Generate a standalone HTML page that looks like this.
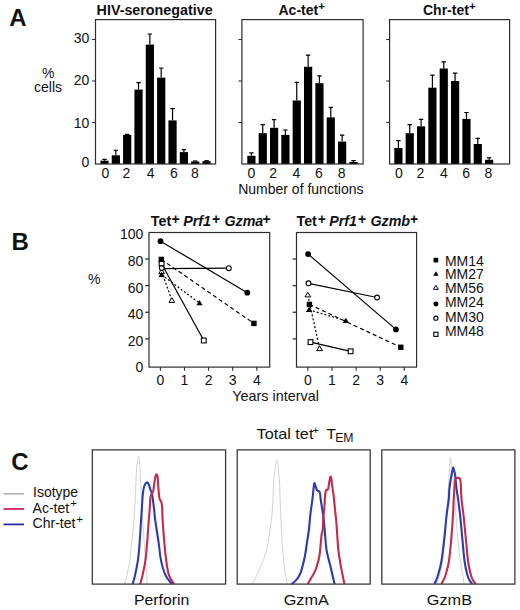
<!DOCTYPE html>
<html><head><meta charset="utf-8"><style>
html,body{margin:0;padding:0;background:#fff;}
svg{display:block;}
text{font-family:"Liberation Sans", sans-serif;}
</style></head><body>
<svg width="520" height="610" viewBox="0 0 520 610" font-family='"Liberation Sans", sans-serif'>
<rect width="520" height="610" fill="#fff"/>
<text x="9.3" y="26.3" font-size="24" font-weight="bold" fill="#111">A</text>
<text x="48.2" y="78.3" font-size="14" text-anchor="middle" fill="#111">%</text>
<text x="48" y="91.7" font-size="14" text-anchor="middle" fill="#111">cells</text>
<rect x="100.4" y="160.7" width="8.2" height="3.3" fill="#000"/>
<path d="M104.5,160.7 V159.3 M102.3,159.3 H106.7" stroke="#000" stroke-width="1.2" fill="none"/>
<rect x="111.74" y="155.3" width="8.2" height="8.7" fill="#000"/>
<path d="M115.84,155.3 V150.4 M113.64,150.4 H118.04" stroke="#000" stroke-width="1.2" fill="none"/>
<rect x="123.08" y="134.9" width="8.2" height="29.1" fill="#000"/>
<path d="M124.98,134.4 H129.38" stroke="#000" stroke-width="1.2" fill="none"/>
<rect x="134.42" y="89.6" width="8.2" height="74.4" fill="#000"/>
<path d="M138.52,89.6 V82.7 M136.32,82.7 H140.72" stroke="#000" stroke-width="1.2" fill="none"/>
<rect x="145.76" y="44.6" width="8.2" height="119.4" fill="#000"/>
<path d="M149.86,44.6 V34 M147.66,34 H152.06" stroke="#000" stroke-width="1.2" fill="none"/>
<rect x="157.1" y="77.6" width="8.2" height="86.4" fill="#000"/>
<path d="M161.2,77.6 V68 M159,68 H163.4" stroke="#000" stroke-width="1.2" fill="none"/>
<rect x="168.44" y="120.4" width="8.2" height="43.6" fill="#000"/>
<path d="M172.54,120.4 V108.6 M170.34,108.6 H174.74" stroke="#000" stroke-width="1.2" fill="none"/>
<rect x="179.78" y="152.1" width="8.2" height="11.9" fill="#000"/>
<path d="M183.88,152.1 V149.7 M181.68,149.7 H186.08" stroke="#000" stroke-width="1.2" fill="none"/>
<rect x="191.12" y="161.5" width="8.2" height="2.5" fill="#000"/>
<path d="M193.02,161 H197.42" stroke="#000" stroke-width="1.2" fill="none"/>
<rect x="202.46" y="161.2" width="8.2" height="2.8" fill="#000"/>
<path d="M204.36,160.7 H208.76" stroke="#000" stroke-width="1.2" fill="none"/>
<rect x="95.5" y="19.6" width="120.1" height="144.4" fill="none" stroke="#2e2e2e" stroke-width="1.2"/>
<path d="M92.1,39.5 H95.5" stroke="#2e2e2e" stroke-width="1.1"/>
<path d="M92.1,81 H95.5" stroke="#2e2e2e" stroke-width="1.1"/>
<path d="M92.1,122.5 H95.5" stroke="#2e2e2e" stroke-width="1.1"/>
<text x="105.5" y="178" font-size="14" text-anchor="middle" fill="#111">0</text>
<text x="126.5" y="178" font-size="14" text-anchor="middle" fill="#111">2</text>
<text x="150.6" y="178" font-size="14" text-anchor="middle" fill="#111">4</text>
<text x="173.8" y="178" font-size="14" text-anchor="middle" fill="#111">6</text>
<text x="195" y="178" font-size="14" text-anchor="middle" fill="#111">8</text>
<text x="96.6" y="14.6" font-size="14.3" font-weight="bold" fill="#111">HIV-seronegative</text>
<rect x="247.3" y="155.8" width="8.2" height="8.2" fill="#000"/>
<path d="M251.4,155.8 V152.9 M249.2,152.9 H253.6" stroke="#000" stroke-width="1.2" fill="none"/>
<rect x="258.64" y="133.2" width="8.2" height="30.8" fill="#000"/>
<path d="M262.74,133.2 V124.6 M260.54,124.6 H264.94" stroke="#000" stroke-width="1.2" fill="none"/>
<rect x="269.98" y="127.8" width="8.2" height="36.2" fill="#000"/>
<path d="M274.08,127.8 V119.7 M271.88,119.7 H276.28" stroke="#000" stroke-width="1.2" fill="none"/>
<rect x="281.32" y="134.9" width="8.2" height="29.1" fill="#000"/>
<path d="M285.42,134.9 V130 M283.22,130 H287.62" stroke="#000" stroke-width="1.2" fill="none"/>
<rect x="292.66" y="100.5" width="8.2" height="63.5" fill="#000"/>
<path d="M296.76,100.5 V82.3 M294.56,82.3 H298.96" stroke="#000" stroke-width="1.2" fill="none"/>
<rect x="304" y="66.8" width="8.2" height="97.2" fill="#000"/>
<path d="M308.1,66.8 V55.2 M305.9,55.2 H310.3" stroke="#000" stroke-width="1.2" fill="none"/>
<rect x="315.34" y="83.2" width="8.2" height="80.8" fill="#000"/>
<path d="M319.44,83.2 V75.9 M317.24,75.9 H321.64" stroke="#000" stroke-width="1.2" fill="none"/>
<rect x="326.68" y="117.4" width="8.2" height="46.6" fill="#000"/>
<path d="M330.78,117.4 V107.4 M328.58,107.4 H332.98" stroke="#000" stroke-width="1.2" fill="none"/>
<rect x="338.02" y="141.6" width="8.2" height="22.4" fill="#000"/>
<path d="M342.12,141.6 V135.2 M339.92,135.2 H344.32" stroke="#000" stroke-width="1.2" fill="none"/>
<rect x="349.36" y="162" width="8.2" height="2" fill="#000"/>
<path d="M353.46,162 V160.7 M351.26,160.7 H355.66" stroke="#000" stroke-width="1.2" fill="none"/>
<rect x="241.9" y="19.6" width="121.2" height="144.4" fill="none" stroke="#2e2e2e" stroke-width="1.2"/>
<path d="M238.5,39.5 H241.9" stroke="#2e2e2e" stroke-width="1.1"/>
<path d="M238.5,81 H241.9" stroke="#2e2e2e" stroke-width="1.1"/>
<path d="M238.5,122.5 H241.9" stroke="#2e2e2e" stroke-width="1.1"/>
<text x="251.5" y="178" font-size="14" text-anchor="middle" fill="#111">0</text>
<text x="273.1" y="178" font-size="14" text-anchor="middle" fill="#111">2</text>
<text x="296.5" y="178" font-size="14" text-anchor="middle" fill="#111">4</text>
<text x="318.9" y="178" font-size="14" text-anchor="middle" fill="#111">6</text>
<text x="341.7" y="178" font-size="14" text-anchor="middle" fill="#111">8</text>
<text x="278.5" y="14.6" font-size="14" font-weight="bold" fill="#111">Ac-tet<tspan font-size="11.5" dy="-4.4">+</tspan></text>
<rect x="394.3" y="148" width="8.2" height="16" fill="#000"/>
<path d="M398.4,148 V140.6 M396.2,140.6 H400.6" stroke="#000" stroke-width="1.2" fill="none"/>
<rect x="405.64" y="133.2" width="8.2" height="30.8" fill="#000"/>
<path d="M409.74,133.2 V124.6 M407.54,124.6 H411.94" stroke="#000" stroke-width="1.2" fill="none"/>
<rect x="416.98" y="126.3" width="8.2" height="37.7" fill="#000"/>
<path d="M421.08,126.3 V119.4 M418.88,119.4 H423.28" stroke="#000" stroke-width="1.2" fill="none"/>
<rect x="428.32" y="87.7" width="8.2" height="76.3" fill="#000"/>
<path d="M432.42,87.7 V75.1 M430.22,75.1 H434.62" stroke="#000" stroke-width="1.2" fill="none"/>
<rect x="439.66" y="68.5" width="8.2" height="95.5" fill="#000"/>
<path d="M443.76,68.5 V61.8 M441.56,61.8 H445.96" stroke="#000" stroke-width="1.2" fill="none"/>
<rect x="451" y="81" width="8.2" height="83" fill="#000"/>
<path d="M455.1,81 V73.1 M452.9,73.1 H457.3" stroke="#000" stroke-width="1.2" fill="none"/>
<rect x="462.34" y="118.9" width="8.2" height="45.1" fill="#000"/>
<path d="M466.44,118.9 V112.5 M464.24,112.5 H468.64" stroke="#000" stroke-width="1.2" fill="none"/>
<rect x="473.68" y="144" width="8.2" height="20" fill="#000"/>
<path d="M477.78,144 V138.4 M475.58,138.4 H479.98" stroke="#000" stroke-width="1.2" fill="none"/>
<rect x="485.02" y="159.8" width="8.2" height="4.2" fill="#000"/>
<path d="M489.12,159.8 V157.8 M486.92,157.8 H491.32" stroke="#000" stroke-width="1.2" fill="none"/>
<rect x="389.6" y="19.6" width="120" height="144.4" fill="none" stroke="#2e2e2e" stroke-width="1.2"/>
<path d="M386.2,39.5 H389.6" stroke="#2e2e2e" stroke-width="1.1"/>
<path d="M386.2,81 H389.6" stroke="#2e2e2e" stroke-width="1.1"/>
<path d="M386.2,122.5 H389.6" stroke="#2e2e2e" stroke-width="1.1"/>
<text x="398.8" y="178" font-size="14" text-anchor="middle" fill="#111">0</text>
<text x="420.3" y="178" font-size="14" text-anchor="middle" fill="#111">2</text>
<text x="443.8" y="178" font-size="14" text-anchor="middle" fill="#111">4</text>
<text x="466.2" y="178" font-size="14" text-anchor="middle" fill="#111">6</text>
<text x="488.4" y="178" font-size="14" text-anchor="middle" fill="#111">8</text>
<text x="423" y="14.6" font-size="14" font-weight="bold" fill="#111">Chr-tet<tspan font-size="11.5" dy="-4.4">+</tspan></text>
<text x="89.3" y="42.8" font-size="14" text-anchor="end" fill="#111">30</text>
<text x="89.3" y="84.9" font-size="14" text-anchor="end" fill="#111">20</text>
<text x="89.3" y="128.2" font-size="14" text-anchor="end" fill="#111">10</text>
<text x="89.3" y="167.3" font-size="14" text-anchor="end" fill="#111">0</text>
<text x="238.2" y="193.7" font-size="14" fill="#111">Number of functions</text>
<text x="11.5" y="250" font-size="24" font-weight="bold" fill="#111">B</text>
<text x="94.3" y="284" font-size="14" text-anchor="middle" fill="#111">%</text>
<rect x="149" y="232.5" width="120.7" height="134.6" fill="none" stroke="#2e2e2e" stroke-width="1.2"/>
<path d="M145.2,338.88 H149" stroke="#2e2e2e" stroke-width="1.3"/>
<path d="M145.2,312.26 H149" stroke="#2e2e2e" stroke-width="1.3"/>
<path d="M145.2,285.64 H149" stroke="#2e2e2e" stroke-width="1.3"/>
<path d="M145.2,259.02 H149" stroke="#2e2e2e" stroke-width="1.3"/>
<path d="M160.4,367.1 V370.7" stroke="#2e2e2e" stroke-width="1.1"/>
<text x="160.4" y="385.3" font-size="14" text-anchor="middle" fill="#111">0</text>
<path d="M184.5,367.1 V370.7" stroke="#2e2e2e" stroke-width="1.1"/>
<text x="184.5" y="385.3" font-size="14" text-anchor="middle" fill="#111">1</text>
<path d="M208.6,367.1 V370.7" stroke="#2e2e2e" stroke-width="1.1"/>
<text x="208.6" y="385.3" font-size="14" text-anchor="middle" fill="#111">2</text>
<path d="M232.7,367.1 V370.7" stroke="#2e2e2e" stroke-width="1.1"/>
<text x="232.7" y="385.3" font-size="14" text-anchor="middle" fill="#111">3</text>
<path d="M256.8,367.1 V370.7" stroke="#2e2e2e" stroke-width="1.1"/>
<text x="256.8" y="385.3" font-size="14" text-anchor="middle" fill="#111">4</text>
<rect x="296.5" y="232.5" width="120.1" height="134.6" fill="none" stroke="#2e2e2e" stroke-width="1.2"/>
<path d="M292.7,338.88 H296.5" stroke="#2e2e2e" stroke-width="1.3"/>
<path d="M292.7,312.26 H296.5" stroke="#2e2e2e" stroke-width="1.3"/>
<path d="M292.7,285.64 H296.5" stroke="#2e2e2e" stroke-width="1.3"/>
<path d="M292.7,259.02 H296.5" stroke="#2e2e2e" stroke-width="1.3"/>
<path d="M307.9,367.1 V370.7" stroke="#2e2e2e" stroke-width="1.1"/>
<text x="307.9" y="385.3" font-size="14" text-anchor="middle" fill="#111">0</text>
<path d="M332,367.1 V370.7" stroke="#2e2e2e" stroke-width="1.1"/>
<text x="332" y="385.3" font-size="14" text-anchor="middle" fill="#111">1</text>
<path d="M356.1,367.1 V370.7" stroke="#2e2e2e" stroke-width="1.1"/>
<text x="356.1" y="385.3" font-size="14" text-anchor="middle" fill="#111">2</text>
<path d="M380.2,367.1 V370.7" stroke="#2e2e2e" stroke-width="1.1"/>
<text x="380.2" y="385.3" font-size="14" text-anchor="middle" fill="#111">3</text>
<path d="M404.3,367.1 V370.7" stroke="#2e2e2e" stroke-width="1.1"/>
<text x="404.3" y="385.3" font-size="14" text-anchor="middle" fill="#111">4</text>
<text x="143.4" y="239.2" font-size="14" text-anchor="end" fill="#111">100</text>
<text x="143.4" y="265.92" font-size="14" text-anchor="end" fill="#111">80</text>
<text x="143.4" y="292.54" font-size="14" text-anchor="end" fill="#111">60</text>
<text x="143.4" y="319.16" font-size="14" text-anchor="end" fill="#111">40</text>
<text x="143.4" y="345.78" font-size="14" text-anchor="end" fill="#111">20</text>
<text x="143.4" y="372.4" font-size="14" text-anchor="end" fill="#111">0</text>
<text x="232.2" y="401.4" font-size="14.4" fill="#111">Years interval</text>
<text x="150.8" y="226.3" font-size="14.3" font-weight="bold" fill="#111">Tet</text>
<text x="171.5" y="223.6" font-size="14" font-weight="bold" fill="#111">+</text>
<text x="183.2" y="226.3" font-size="14.3" font-weight="bold" font-style="italic" fill="#111">Prf1</text>
<text x="211.9" y="223.6" font-size="14" font-weight="bold" fill="#111">+</text>
<text x="224.4" y="226.3" font-size="14.3" font-weight="bold" font-style="italic" fill="#111">Gzma</text>
<text x="262.4" y="223.6" font-size="14" font-weight="bold" fill="#111">+</text>
<text x="296.5" y="226.3" font-size="14.3" font-weight="bold" fill="#111">Tet</text>
<text x="317.8" y="223.6" font-size="14" font-weight="bold" fill="#111">+</text>
<text x="329.2" y="226.3" font-size="14.3" font-weight="bold" font-style="italic" fill="#111">Prf1</text>
<text x="357.9" y="223.6" font-size="14" font-weight="bold" fill="#111">+</text>
<text x="370.4" y="226.3" font-size="14.3" font-weight="bold" font-style="italic" fill="#111">Gzmb</text>
<text x="409.9" y="223.6" font-size="14" font-weight="bold" fill="#111">+</text>
<path d="M160.5,241.2 L247.3,292.7" stroke="#000" stroke-width="1.2" fill="none" />
<path d="M162.5,268.7 L228.8,268.1" stroke="#000" stroke-width="1.2" fill="none" />
<path d="M161.6,263.8 L203.8,340.5" stroke="#000" stroke-width="1.2" fill="none" />
<path d="M161.3,259.4 L253.9,323.4" stroke="#000" stroke-width="1.2" fill="none" stroke-dasharray="4,3"/>
<path d="M161.6,274.8 L199.5,303.1" stroke="#000" stroke-width="1.2" fill="none" stroke-dasharray="2,2"/>
<path d="M161.6,271.6 L171.9,300.4" stroke="#000" stroke-width="1.2" fill="none" stroke-dasharray="2,2"/>
<rect x="159.2" y="261.4" width="4.8" height="4.8" fill="#fff" stroke="#000" stroke-width="1.1"/>
<rect x="201.4" y="338.1" width="4.8" height="4.8" fill="#fff" stroke="#000" stroke-width="1.1"/>
<rect x="158.6" y="256.7" width="5.4" height="5.4" fill="#000"/>
<rect x="251.2" y="320.7" width="5.4" height="5.4" fill="#000"/>
<path d="M161.6,268.9 L164.44,273.62 L158.76,273.62 Z" fill="#fff" stroke="#000" stroke-width="1"/>
<path d="M171.9,297.7 L174.74,302.42 L169.06,302.42 Z" fill="#fff" stroke="#000" stroke-width="1"/>
<path d="M161.6,271.8 L164.75,277.05 L158.45,277.05 Z" fill="#000"/>
<path d="M199.5,300.1 L202.65,305.35 L196.35,305.35 Z" fill="#000"/>
<circle cx="161.8" cy="268" r="2.4" fill="#fff" stroke="#000" stroke-width="1.1"/>
<circle cx="228.8" cy="268.2" r="2.4" fill="#fff" stroke="#000" stroke-width="1.1"/>
<circle cx="160.5" cy="241.2" r="2.9" fill="#000"/>
<circle cx="247.3" cy="292.7" r="2.9" fill="#000"/>
<path d="M308.1,254.1 L395.9,329.4" stroke="#000" stroke-width="1.2" fill="none" />
<path d="M308.5,283.3 L377.1,297.5" stroke="#000" stroke-width="1.2" fill="none" />
<path d="M307.8,294.9 L319.6,348.6" stroke="#000" stroke-width="1.2" fill="none" stroke-dasharray="2,2"/>
<path d="M309.4,304.4 L400.8,347.3" stroke="#000" stroke-width="1.2" fill="none" stroke-dasharray="4,3"/>
<path d="M309.1,309.8 L345.9,320.8" stroke="#000" stroke-width="1.2" fill="none" stroke-dasharray="2,2"/>
<path d="M310.5,342.1 L350.6,351.3" stroke="#000" stroke-width="1.2" fill="none" />
<rect x="308.1" y="339.7" width="4.8" height="4.8" fill="#fff" stroke="#000" stroke-width="1.1"/>
<rect x="348.2" y="348.9" width="4.8" height="4.8" fill="#fff" stroke="#000" stroke-width="1.1"/>
<rect x="306.7" y="301.7" width="5.4" height="5.4" fill="#000"/>
<rect x="398.1" y="344.6" width="5.4" height="5.4" fill="#000"/>
<path d="M307.8,292.2 L310.63,296.92 L304.97,296.92 Z" fill="#fff" stroke="#000" stroke-width="1"/>
<path d="M319.6,345.9 L322.44,350.62 L316.77,350.62 Z" fill="#fff" stroke="#000" stroke-width="1"/>
<path d="M309.1,306.8 L312.25,312.05 L305.95,312.05 Z" fill="#000"/>
<path d="M345.9,317.8 L349.05,323.05 L342.75,323.05 Z" fill="#000"/>
<circle cx="308.5" cy="283.3" r="2.4" fill="#fff" stroke="#000" stroke-width="1.1"/>
<circle cx="377.1" cy="297.5" r="2.4" fill="#fff" stroke="#000" stroke-width="1.1"/>
<circle cx="308.1" cy="254.1" r="2.9" fill="#000"/>
<circle cx="395.9" cy="329.4" r="2.9" fill="#000"/>
<rect x="433.58" y="257.78" width="4.64" height="4.64" fill="#000"/>
<text x="444.9" y="265.5" font-size="14" fill="#111">MM14</text>
<path d="M435.9,271.32 L438.61,275.83 L433.19,275.83 Z" fill="#000"/>
<text x="444.9" y="279.3" font-size="14" fill="#111">MM27</text>
<path d="M435.9,285.28 L438.34,289.34 L433.46,289.34 Z" fill="#fff" stroke="#000" stroke-width="1"/>
<text x="444.9" y="293.1" font-size="14" fill="#111">MM56</text>
<circle cx="435.9" cy="303.9" r="2.49" fill="#000"/>
<text x="444.9" y="307.3" font-size="14" fill="#111">MM24</text>
<circle cx="435.9" cy="318.2" r="2.06" fill="#fff" stroke="#000" stroke-width="1.1"/>
<text x="444.9" y="321.6" font-size="14" fill="#111">MM30</text>
<rect x="433.84" y="332.24" width="4.13" height="4.13" fill="#fff" stroke="#000" stroke-width="1.1"/>
<text x="444.9" y="335.5" font-size="14" fill="#111">MM48</text>
<text x="11.3" y="470.3" font-size="24" font-weight="bold" fill="#111">C</text>
<text x="256.6" y="438.6" font-size="15" fill="#111" textLength="56.8" lengthAdjust="spacingAndGlyphs">Total tet</text>
<text x="312.6" y="434.0" font-size="11" fill="#111">+</text>
<text x="326.4" y="438.6" font-size="15.3" fill="#111">T</text>
<text x="335.2" y="442.2" font-size="12" fill="#111" textLength="18.4" lengthAdjust="spacingAndGlyphs">EM</text>
<path d="M3.5,493.8 H24" stroke="#b5b5b5" stroke-width="1.7"/>
<path d="M3.5,509 H24" stroke="#d01850" stroke-width="1.7"/>
<path d="M3.5,524.4 H24" stroke="#2222a0" stroke-width="1.7"/>
<text x="33" y="496.5" font-size="14" fill="#111">Isotype</text>
<text x="32.6" y="512.9" font-size="14" fill="#111">Ac-tet</text>
<text x="70.3" y="507.4" font-size="11.5" fill="#111">+</text>
<text x="32.6" y="528.1" font-size="14" fill="#111">Chr-tet</text>
<text x="76.3" y="523.0" font-size="11.5" fill="#111">+</text>
<path d="M124.6,584 C124.98,582.57 126.03,579.33 126.9,575.4 C127.77,571.47 129.03,565.8 129.8,560.4 C130.57,555 130.83,549.4 131.5,543 C132.17,536.6 133.15,530.08 133.8,522 C134.45,513.92 134.88,504 135.4,494.5 C135.92,485 136.28,471.32 136.9,465 C137.52,458.68 138.62,456.6 139.1,456.6 C139.58,456.6 139.43,458.6 139.8,465 C140.17,471.4 140.77,485 141.3,495 C141.83,505 142.38,515 143,525 C143.62,535 144.42,546.67 145,555 C145.58,563.33 146.15,570.17 146.5,575 C146.85,579.83 147,582.5 147.1,584" stroke="#d2d2d2" stroke-width="1" fill="none"/>
<path d="M132.7,584 C133.08,582.57 134.13,579.33 135,575.4 C135.87,571.47 137.13,565.78 137.9,560.4 C138.67,555.02 139.07,549.83 139.6,543.1 C140.13,536.37 140.73,525.65 141.1,520 C141.47,514.35 141.52,513.45 141.8,509.2 C142.08,504.95 142.38,498.37 142.8,494.5 C143.22,490.63 143.57,488.02 144.3,486 C145.03,483.98 146.42,482.57 147.2,482.4 C147.98,482.23 148.45,483.73 149,485 C149.55,486.27 149.98,488.42 150.5,490 C151.02,491.58 151.5,491.3 152.1,494.5 C152.7,497.7 153.58,504.95 154.1,509.2 C154.62,513.45 154.43,514.35 155.2,520 C155.97,525.65 157.73,536.37 158.7,543.1 C159.67,549.83 159.85,555.02 161,560.4 C162.15,565.78 163.78,571.47 165.6,575.4 C167.42,579.33 170.85,582.57 171.9,584" stroke="#2c3bb0" stroke-width="2.1" fill="none" stroke-linejoin="round"/>
<path d="M140.2,584 C140.58,582.57 141.63,579.33 142.5,575.4 C143.37,571.47 144.63,565.78 145.4,560.4 C146.17,555.02 146.53,549.83 147.1,543.1 C147.67,536.37 148.37,525.65 148.8,520 C149.23,514.35 149.4,513.12 149.7,509.2 C150,505.28 150.03,499.45 150.6,496.5 C151.17,493.55 152.52,493.47 153.1,491.5 C153.68,489.53 153.73,487.12 154.1,484.7 C154.47,482.28 154.92,478.73 155.3,477 C155.68,475.27 156.02,474.3 156.4,474.3 C156.78,474.3 157.25,474.45 157.6,477 C157.95,479.55 158.18,486.03 158.5,489.6 C158.82,493.17 159,496.27 159.5,498.4 C160,500.53 161.05,500.6 161.5,502.4 C161.95,504.2 162.02,506.27 162.2,509.2 C162.38,512.13 162.23,514.35 162.6,520 C162.97,525.65 163.8,536.37 164.4,543.1 C165,549.83 165.43,555.02 166.2,560.4 C166.97,565.78 167.67,571.47 169,575.4 C170.33,579.33 173.33,582.57 174.2,584" stroke="#c42a4e" stroke-width="2.1" fill="none" stroke-linejoin="round"/>
<rect x="92.3" y="449.9" width="133.3" height="134.2" fill="none" stroke="#333" stroke-width="1.25"/>
<path d="M252.4,584 C253.52,581.67 256.75,575.67 259.1,570 C261.45,564.33 264.37,559.17 266.5,550 C268.63,540.83 270.67,526.67 271.9,515 C273.13,503.33 273.07,489.08 273.9,480 C274.73,470.92 276,460.5 276.9,460.5 C277.8,460.5 278.67,470.92 279.3,480 C279.93,489.08 280.13,503.33 280.7,515 C281.27,526.67 282.03,540.83 282.7,550 C283.37,559.17 283.92,564.33 284.7,570 C285.48,575.67 286.95,581.67 287.4,584" stroke="#d2d2d2" stroke-width="1" fill="none"/>
<path d="M291.5,584 C291.92,583.7 293.05,583.05 294,582.2 C294.95,581.35 296.23,580.18 297.2,578.9 C298.17,577.62 299.1,575.92 299.8,574.5 C300.5,573.08 300.55,573.43 301.4,570.4 C302.25,567.37 303.97,560.98 304.9,556.3 C305.83,551.62 306.33,546.68 307,542.3 C307.67,537.92 308.33,534.68 308.9,530 C309.47,525.32 309.82,519.28 310.4,514.2 C310.98,509.12 311.92,503.37 312.4,499.5 C312.88,495.63 312.98,493.7 313.3,491 C313.62,488.3 313.92,484.05 314.3,483.3 C314.68,482.55 315.1,485.28 315.6,486.5 C316.1,487.72 316.62,489.67 317.3,490.6 C317.98,491.53 319.13,490.62 319.7,492.1 C320.27,493.58 320.28,496.63 320.7,499.5 C321.12,502.37 321.7,506.02 322.2,509.3 C322.7,512.58 323.28,515.75 323.7,519.2 C324.12,522.65 324.23,524.93 324.7,530 C325.17,535.07 325.52,543.45 326.5,549.6 C327.48,555.75 329.25,561.17 330.6,566.9 C331.95,572.63 333.93,581.15 334.6,584" stroke="#2c3bb0" stroke-width="2.1" fill="none" stroke-linejoin="round"/>
<path d="M307.7,584 C308.28,583 310.23,579.67 311.2,578 C312.17,576.33 312.67,575.67 313.5,574 C314.33,572.33 315.22,571 316.2,568 C317.18,565 318.5,561.57 319.4,556 C320.3,550.43 321.05,538.93 321.6,534.6 C322.15,530.27 322.43,532.57 322.7,530 C322.97,527.43 322.95,522.65 323.2,519.2 C323.45,515.75 323.87,513.4 324.2,509.3 C324.53,505.2 324.88,497.78 325.2,494.6 C325.52,491.42 325.62,491.1 326.1,490.2 C326.58,489.3 327.57,490.57 328.1,489.2 C328.63,487.83 328.92,484.08 329.3,482 C329.68,479.92 330.05,477.2 330.4,476.7 C330.75,476.2 331.13,477.67 331.4,479 C331.67,480.33 331.65,482.1 332,484.7 C332.35,487.3 333,490.5 333.5,494.6 C334,498.7 334.5,504.38 335,509.3 C335.5,514.22 335.95,517.38 336.5,524.1 C337.05,530.82 337.55,542.47 338.3,549.6 C339.05,556.73 339.98,561.17 341,566.9 C342.02,572.63 343.83,581.15 344.4,584" stroke="#c42a4e" stroke-width="2.1" fill="none" stroke-linejoin="round"/>
<rect x="237.2" y="449.9" width="133" height="134.2" fill="none" stroke="#333" stroke-width="1.25"/>
<path d="M437,584 C437.83,580.83 440.58,574 442,565 C443.42,556 444.57,540.83 445.5,530 C446.43,519.17 446.97,509.67 447.6,500 C448.23,490.33 448.82,479.17 449.3,472 C449.78,464.83 450.08,457.33 450.5,457 C450.92,456.67 451.27,465.42 451.8,470 C452.33,474.58 453.02,477 453.7,484.5 C454.38,492 455.1,504.92 455.9,515 C456.7,525.08 457.65,536.67 458.5,545 C459.35,553.33 460.27,559.92 461,565 C461.73,570.08 462.4,572.33 462.9,575.5 C463.4,578.67 463.82,582.58 464,584" stroke="#d2d2d2" stroke-width="1" fill="none"/>
<path d="M434.4,584 C434.72,583.33 435.72,581.42 436.3,580 C436.88,578.58 437.05,578.58 437.9,575.5 C438.75,572.42 440.33,567.7 441.4,561.5 C442.47,555.3 443.43,546.05 444.3,538.3 C445.17,530.55 445.85,521.52 446.6,515 C447.35,508.48 448.35,503.47 448.8,499.2 C449.25,494.93 448.98,492.67 449.3,489.4 C449.62,486.13 450.2,482.67 450.7,479.6 C451.2,476.53 451.88,473.05 452.3,471 C452.72,468.95 452.88,467.3 453.2,467.3 C453.52,467.3 453.87,469.62 454.2,471 C454.53,472.38 454.8,472.53 455.2,475.6 C455.6,478.67 456.12,485.47 456.6,489.4 C457.08,493.33 457.52,494.93 458.1,499.2 C458.68,503.47 459.4,508.48 460.1,515 C460.8,521.52 461.55,530.55 462.3,538.3 C463.05,546.05 463.73,555.3 464.6,561.5 C465.47,567.7 466.6,572.25 467.5,575.5 C468.4,578.75 469.22,579.58 470,581 C470.78,582.42 471.83,583.5 472.2,584" stroke="#2c3bb0" stroke-width="2.1" fill="none" stroke-linejoin="round"/>
<path d="M441.4,584 C441.75,583.33 442.83,581.42 443.5,580 C444.17,578.58 444.5,578.58 445.4,575.5 C446.3,572.42 447.92,567.7 448.9,561.5 C449.88,555.3 450.62,546.05 451.3,538.3 C451.98,530.55 452.6,521.52 453,515 C453.4,508.48 453.42,504.28 453.7,499.2 C453.98,494.12 454.43,487.78 454.7,484.5 C454.97,481.22 455.05,480.57 455.3,479.5 C455.55,478.43 455.55,478.33 456.2,478.1 C456.85,477.87 458.53,477.87 459.2,478.1 C459.87,478.33 459.93,478.43 460.2,479.5 C460.47,480.57 460.58,481.22 460.8,484.5 C461.02,487.78 461.05,494.12 461.5,499.2 C461.95,504.28 462.78,508.48 463.5,515 C464.22,521.52 465.03,530.55 465.8,538.3 C466.57,546.05 467.23,555.3 468.1,561.5 C468.97,567.7 470.1,572.25 471,575.5 C471.9,578.75 472.72,579.58 473.5,581 C474.28,582.42 475.33,583.5 475.7,584" stroke="#c42a4e" stroke-width="2.1" fill="none" stroke-linejoin="round"/>
<rect x="381.8" y="449.9" width="133.1" height="134.2" fill="none" stroke="#333" stroke-width="1.25"/>
<text x="134.0" y="604.7" font-size="14.6" fill="#111" textLength="55.3" lengthAdjust="spacingAndGlyphs">Perforin</text>
<text x="283.7" y="604.7" font-size="14.6" fill="#111" textLength="45.2" lengthAdjust="spacingAndGlyphs">GzmA</text>
<text x="426.8" y="604.7" font-size="14.6" fill="#111" textLength="45.2" lengthAdjust="spacingAndGlyphs">GzmB</text>
</svg>
</body></html>
